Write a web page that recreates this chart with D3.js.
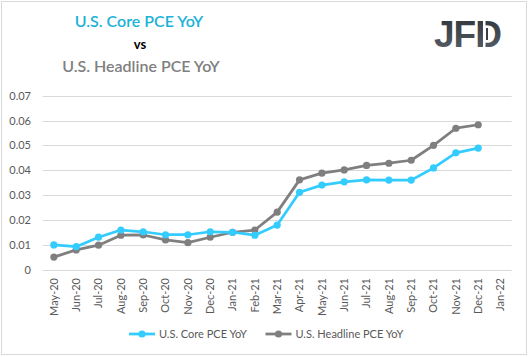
<!DOCTYPE html>
<html><head><meta charset="utf-8">
<script src="https://cdn.jsdelivr.net/npm/d3@7"></script>
<style>body{margin:0;background:#fff}svg{display:block}</style>
</head><body><svg id="c" width="528" height="357"></svg>
<script>
const months = ["May-20","Jun-20","Jul-20","Aug-20","Sep-20","Oct-20","Nov-20","Dec-20","Jan-21","Feb-21","Mar-21","Apr-21","May-21","Jun-21","Jul-21","Aug-21","Sep-21","Oct-21","Nov-21","Dec-21","Jan-22"];
const coreVals = [0.0099,0.0092,0.0130,0.0159,0.0152,0.0140,0.0140,0.0152,0.0150,0.0138,0.0179,0.0311,0.0340,0.0353,0.0361,0.0360,0.0360,0.0409,0.0470,0.0489,null];
const headVals = [0.0050,0.0079,0.0098,0.0138,0.0139,0.0119,0.0108,0.0130,0.0150,0.0159,0.0231,0.0361,0.0388,0.0401,0.0419,0.0428,0.0440,0.0500,0.0569,0.0583,null];
const yTicks = [0,0.01,0.02,0.03,0.04,0.05,0.06,0.07];
const seriesNames = ["U.S. Core PCE YoY","U.S. Headline PCE YoY"];
const colors = ["#33ccff","#7f7f7f"];

const svg = d3.select("#c");
const font = "Lato, 'Open Sans', sans-serif";
svg.append("rect").attr("x",1.5).attr("y",1.5).attr("width",525).attr("height",353)
  .attr("fill","#fff").attr("stroke","#d9d9d9");

const x = d3.scaleBand().domain(months).range([42.7,511.7]);
const y = d3.scaleLinear().domain([0,0.07]).range([269.5,95.7]);

// grid
svg.append("g").selectAll("line").data(yTicks).join("line")
  .attr("x1",42.7).attr("x2",511.7).attr("y1",d=>Math.round(y(d))+0.5).attr("y2",d=>Math.round(y(d))+0.5)
  .attr("stroke","#d9d9d9").attr("stroke-width",1);

const yAxis = svg.append("g").attr("transform","translate(31,0)")
  .call(d3.axisLeft(y).tickValues(yTicks).tickSize(0).tickPadding(0).tickFormat(d=>d===0?"0":d3.format(".2f")(d)));
yAxis.select(".domain").remove();
yAxis.selectAll("text").attr("font-family",font).attr("font-size",11).attr("fill","#595959");

const xAxis = svg.append("g").attr("transform","translate(0,276)")
  .call(d3.axisBottom(x).tickSize(0).tickPadding(0));
xAxis.select(".domain").remove();
xAxis.selectAll("text").attr("font-family",font).attr("font-size",11).attr("fill","#595959")
  .attr("transform","rotate(-90)").attr("text-anchor","end").attr("x",-2).attr("y",0).attr("dy","0.35em");

const line = d3.line().defined(d=>d!=null).x((d,i)=>x(months[i])+x.bandwidth()/2).y(d=>y(d));
[headVals,coreVals].forEach((vals,k)=>{
  const c = k===0?colors[1]:colors[0];
  svg.append("path").datum(vals).attr("d",line).attr("fill","none").attr("stroke",c).attr("stroke-width",2.75).attr("stroke-linejoin","round");
  svg.append("g").selectAll("circle").data(vals.map((v,i)=>({v,i})).filter(d=>d.v!=null)).join("circle")
    .attr("cx",d=>x(months[d.i])+x.bandwidth()/2).attr("cy",d=>y(d.v)).attr("r",3.6).attr("fill",c);
});

// legend
const leg = [{x0:129,name:seriesNames[0],c:colors[0]},{x0:265.5,name:seriesNames[1],c:colors[1]}];
leg.forEach(l=>{
  svg.append("line").attr("x1",l.x0).attr("x2",l.x0+26).attr("y1",334).attr("y2",334).attr("stroke",l.c).attr("stroke-width",2.75);
  svg.append("circle").attr("cx",l.x0+13).attr("cy",334).attr("r",3.6).attr("fill",l.c);
  svg.append("text").attr("x",l.x0+30).attr("y",338).attr("font-family",font).attr("font-size",11).attr("fill","#595959").text(l.name);
});

// titles
svg.append("text").attr("x",139).attr("y",27).attr("text-anchor","middle").attr("font-family",font).attr("font-size",16).attr("font-weight",600).attr("fill","#1ab2d8").text("U.S. Core PCE YoY");
svg.append("text").attr("x",140).attr("y",49).attr("text-anchor","middle").attr("font-family",font).attr("font-size",13).attr("font-weight",700).attr("fill","#000").text("vs");
svg.append("text").attr("x",141).attr("y",72).attr("text-anchor","middle").attr("font-family",font).attr("font-size",16).attr("font-weight",600).attr("fill","#808080").text("U.S. Headline PCE YoY");

// logo
const defs = svg.append("defs");
const g = defs.append("linearGradient").attr("id","lg").attr("x1",0).attr("x2",0).attr("y1",0).attr("y2",1);
g.append("stop").attr("offset",0).attr("stop-color","#2f3338");
g.append("stop").attr("offset",1).attr("stop-color","#5a626b");
svg.append("text").attr("x",434).attr("y",47).attr("font-family","'Liberation Sans', Arial, sans-serif").attr("font-weight",700).attr("font-size",37).attr("letter-spacing",-1).attr("fill","url(#lg)").text("JFD");
svg.append("rect").attr("x",483).attr("y",18).attr("width",2.5).attr("height",32).attr("fill","#fff");
svg.append("rect").attr("x",486).attr("y",28).attr("width",2).attr("height",12).attr("fill","#3a3f44");
</script></body></html>
